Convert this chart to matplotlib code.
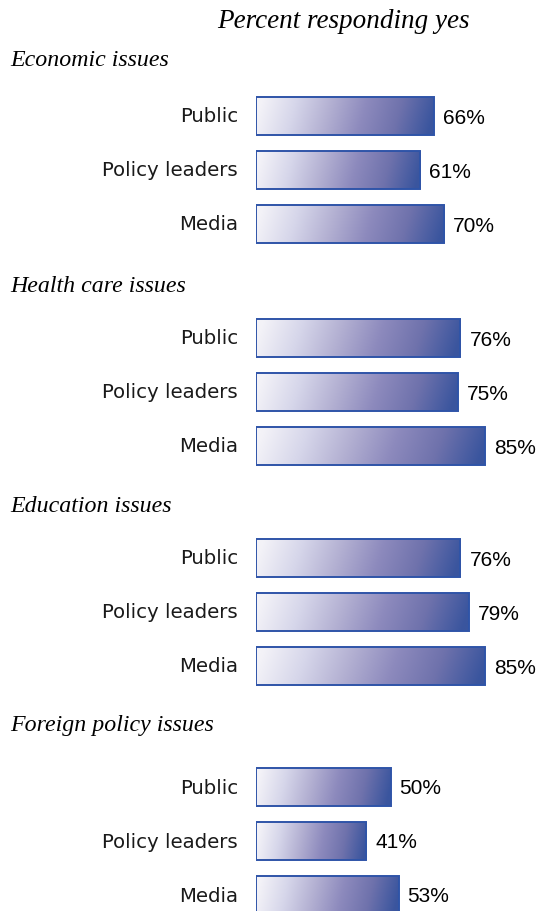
import numpy as np
import matplotlib
matplotlib.use("Agg")
import matplotlib.pyplot as plt
from matplotlib.colors import LinearSegmentedColormap

# ---- data ----
sections = ["Economic issues", "Health care issues", "Education issues", "Foreign policy issues"]
groups = ["Public", "Policy leaders", "Media"]
economic = [66, 61, 70]
health = [76, 75, 85]
education = [76, 79, 85]
foreign = [50, 41, 53]
values = [economic, health, education, foreign]
header = "Percent responding yes"

# ---- layout (pixels from top) ----
W, H = 542, 911
section_title_y = [60, 287, 506, 726]
first_bar_y = [116, 338, 558, 787]
bar_step = 54
bar_h = 38
bar_left_px = 256
px_per_pct = 2.69

fig = plt.figure(figsize=(W / 100, H / 100), dpi=100)
ax = fig.add_axes([bar_left_px / W, 0, 1 - bar_left_px / W, 1])
ax.axis("off")

cmap = LinearSegmentedColormap.from_list(
    "grad",
    ["#f4f3f8", "#d6d6ea", "#b3b0d2", "#8d8abd", "#6f72ac", "#3a559e"],
)
gx = np.linspace(0, 1, 256)
gy = np.linspace(0, 1, 32)
GX, GY = np.meshgrid(gx, gy)
grad = np.clip(GX + 0.06 * (GY - 0.5), 0, 1)

header_font = dict(family="Liberation Serif", style="italic", size=19.5)
title_font = dict(family="Liberation Serif", style="italic", size=17.2)
label_font = dict(family="DejaVu Sans", size=14.2)
value_font = dict(family="Liberation Sans", size=15)

fig.text(343 / W, 1 - 22 / H, header, ha="center", va="center", color="black", **header_font)

for si, (name, vals) in enumerate(zip(sections, values)):
    fig.text(10 / W, 1 - section_title_y[si] / H, name, ha="left", va="center",
             color="black", **title_font)
    for gi, (g, v) in enumerate(zip(groups, vals)):
        yc = first_bar_y[si] + gi * bar_step
        bars = ax.barh(yc, v, height=bar_h, left=0, color="none",
                       edgecolor="#2f54a8", linewidth=1.4, zorder=3)
        rect = bars[0]
        im = ax.imshow(grad, cmap=cmap, aspect="auto", interpolation="bicubic",
                       extent=[0, v, yc + bar_h / 2, yc - bar_h / 2], zorder=2)
        im.set_clip_path(rect)
        ax.text(-18 / px_per_pct, yc + 1, g, ha="right", va="center",
                color="#1a1a1a", clip_on=False, **label_font)
        ax.text(v + 9 / px_per_pct, yc + 2, f"{v}%", ha="left", va="center",
                color="black", clip_on=False, **value_font)

ax.set_xlim(0, (W - bar_left_px) / px_per_pct)
ax.set_ylim(H, 0)
fig.savefig("out.png", dpi=100)
